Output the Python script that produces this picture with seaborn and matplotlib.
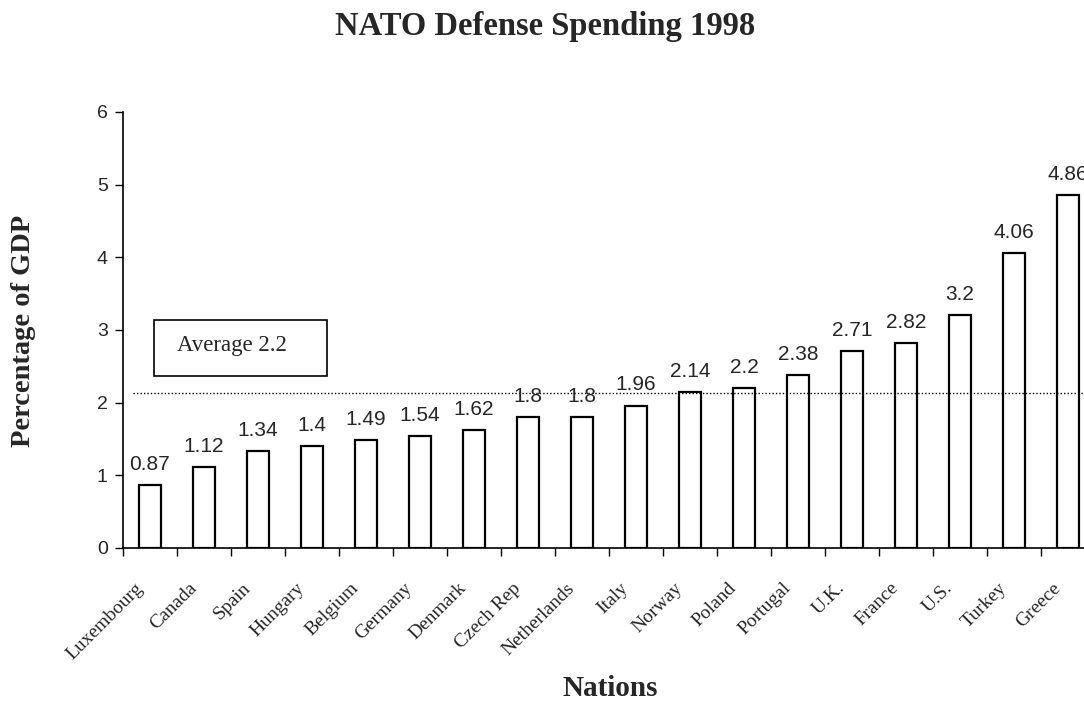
import matplotlib
matplotlib.use("Agg")
import matplotlib.pyplot as plt
import matplotlib.transforms as mtransforms
from matplotlib.patches import Rectangle
import seaborn as sns

nations = ["Luxembourg", "Canada", "Spain", "Hungary", "Belgium", "Germany",
           "Denmark", "Czech Rep", "Netherlands", "Italy", "Norway", "Poland",
           "Portugal", "U.K.", "France", "U.S.", "Turkey", "Greece"]
spending = [0.87, 1.12, 1.34, 1.4, 1.49, 1.54, 1.62, 1.8, 1.8, 1.96, 2.14,
            2.2, 2.38, 2.71, 2.82, 3.2, 4.06, 4.86]
average_line = 2.13
average_text = "Average 2.2"
yticks = [0, 1, 2, 3, 4, 5, 6]

sns.set_style("ticks")
plt.rcParams["font.family"] = ["Liberation Sans", "DejaVu Sans"]

W, H = 1084, 704
fig = plt.figure(figsize=(W / 100, H / 100), dpi=100)
ax = fig.add_axes([123 / W, (H - 548) / H, 972 / W, 436 / H])

sns.barplot(x=nations, y=spending, color="white", edgecolor="black",
            linewidth=1.6, width=0.4, saturation=1, ax=ax)

ax.set_xlim(-0.5, len(nations) - 0.5)
ax.set_ylim(0, 6)
ax.set_yticks(yticks)
ax.set_yticklabels([str(t) for t in yticks], fontsize=14, family="Liberation Sans")

# category boundary ticks
ax.set_xticks([i - 0.5 for i in range(len(nations) + 1)], minor=False)
ax.set_xticklabels([])
ax.set_xticks(range(len(nations)), minor=True)
ax.set_xticklabels(nations, minor=True, rotation=45, ha="right", va="center",
                   rotation_mode="anchor", fontsize=14, family="Liberation Serif")
ax.tick_params(axis="x", which="minor", length=0, pad=27)
ax.tick_params(axis="x", which="major", length=6, width=1, direction="out", color="black")
ax.tick_params(axis="y", length=6, width=1, direction="out", color="black", pad=5)
offset = mtransforms.ScaledTranslation(-10 / 100, 0, fig.dpi_scale_trans)
for lab in ax.get_xticklabels(minor=True):
    lab.set_transform(lab.get_transform() + offset)

for s in ["top", "right"]:
    ax.spines[s].set_visible(False)
for s in ["left", "bottom"]:
    ax.spines[s].set_color("black")
    ax.spines[s].set_linewidth(1.2)

ax.set_xlabel("")
ax.set_ylabel("")

for cont in ax.containers:
    ax.bar_label(cont, fmt="%g", padding=8, fontsize=15, family="Liberation Sans")

ax.axhline(average_line, xmin=0.01, xmax=1, color="black", linestyle=(0, (1, 1.5)),
           linewidth=1)

ax.add_patch(Rectangle((31 / 972, (548 - 376) / 436), 173 / 972, 56 / 436,
                       transform=ax.transAxes, facecolor="white", edgecolor="black",
                       linewidth=1.2, zorder=5))
ax.text(54 / 972, (548 - 346) / 436, average_text, transform=ax.transAxes,
        ha="left", va="center", fontsize=16.5, family="Liberation Serif", zorder=6)

fig.text(545 / W, 1 - 27 / H, "NATO Defense Spending 1998", ha="center", va="center",
         fontsize=23.5, fontweight="bold", family="Liberation Serif")
fig.text(610 / W, 1 - 689 / H, "Nations", ha="center", va="center",
         fontsize=21, fontweight="bold", family="Liberation Serif")
fig.text(24 / W, 1 - 331 / H, "Percentage of GDP", ha="center", va="center",
         rotation=90, fontsize=20.5, fontweight="bold", family="Liberation Serif")

fig.savefig("out.png", dpi=100)
